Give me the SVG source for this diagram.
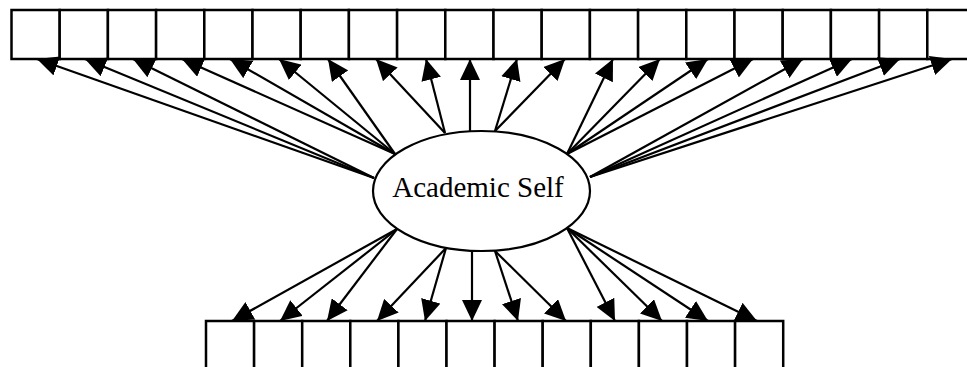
<svg xmlns="http://www.w3.org/2000/svg" width="967" height="367" viewBox="0 0 967 367">
<style>
.box{fill:#fff;stroke:#000;stroke-width:2.5}
.ell{fill:#fff;stroke:#000;stroke-width:2.2}
.c line{stroke:#000;stroke-width:2.2;marker-end:url(#ah)}
.lbl{font-family:"Liberation Serif","Times New Roman",serif;font-size:29px;fill:#000}
</style>
<defs>
<marker id="ah" markerUnits="userSpaceOnUse" markerWidth="21" markerHeight="20" refX="21" refY="10" orient="auto" viewBox="0 0 21 20">
<path d="M0,0 L21,10 L0,20 z" fill="#000"/>
</marker>
</defs>
<rect width="967" height="367" fill="#fff"/>
<g id="top-row">
<g id="t1"><rect class="box" x="11.5" y="10" width="48.2" height="49"/></g>
<g id="t2"><rect class="box" x="59.7" y="10" width="48.2" height="49"/></g>
<g id="t3"><rect class="box" x="107.9" y="10" width="48.2" height="49"/></g>
<g id="t4"><rect class="box" x="156.1" y="10" width="48.2" height="49"/></g>
<g id="t5"><rect class="box" x="204.3" y="10" width="48.2" height="49"/></g>
<g id="t6"><rect class="box" x="252.5" y="10" width="48.2" height="49"/></g>
<g id="t7"><rect class="box" x="300.7" y="10" width="48.2" height="49"/></g>
<g id="t8"><rect class="box" x="348.9" y="10" width="48.2" height="49"/></g>
<g id="t9"><rect class="box" x="397.1" y="10" width="48.2" height="49"/></g>
<g id="t10"><rect class="box" x="445.3" y="10" width="48.2" height="49"/></g>
<g id="t11"><rect class="box" x="493.5" y="10" width="48.2" height="49"/></g>
<g id="t12"><rect class="box" x="541.7" y="10" width="48.2" height="49"/></g>
<g id="t13"><rect class="box" x="589.9" y="10" width="48.2" height="49"/></g>
<g id="t14"><rect class="box" x="638.1" y="10" width="48.2" height="49"/></g>
<g id="t15"><rect class="box" x="686.3" y="10" width="48.2" height="49"/></g>
<g id="t16"><rect class="box" x="734.5" y="10" width="48.2" height="49"/></g>
<g id="t17"><rect class="box" x="782.7" y="10" width="48.2" height="49"/></g>
<g id="t18"><rect class="box" x="830.9" y="10" width="48.2" height="49"/></g>
<g id="t19"><rect class="box" x="879.1" y="10" width="48.2" height="49"/></g>
<g id="t20"><rect class="box" x="927.3" y="10" width="48.2" height="49"/></g>
</g>
<g id="bottom-row">
<g id="b1"><rect class="box" x="206" y="321" width="48.1" height="60"/></g>
<g id="b2"><rect class="box" x="254.1" y="321" width="48.1" height="60"/></g>
<g id="b3"><rect class="box" x="302.2" y="321" width="48.1" height="60"/></g>
<g id="b4"><rect class="box" x="350.3" y="321" width="48.1" height="60"/></g>
<g id="b5"><rect class="box" x="398.4" y="321" width="48.1" height="60"/></g>
<g id="b6"><rect class="box" x="446.5" y="321" width="48.1" height="60"/></g>
<g id="b7"><rect class="box" x="494.6" y="321" width="48.1" height="60"/></g>
<g id="b8"><rect class="box" x="542.7" y="321" width="48.1" height="60"/></g>
<g id="b9"><rect class="box" x="590.8" y="321" width="48.1" height="60"/></g>
<g id="b10"><rect class="box" x="638.9" y="321" width="48.1" height="60"/></g>
<g id="b11"><rect class="box" x="687" y="321" width="48.1" height="60"/></g>
<g id="b12"><rect class="box" x="735.1" y="321" width="48.1" height="60"/></g>
</g>
<g id="academic-self">
<ellipse class="ell" cx="481.5" cy="191" rx="108.5" ry="60"/>
<text class="lbl" x="478" y="197" text-anchor="middle">Academic Self</text>
</g>
<g id="connectors" class="c">
<line x1="374" y1="178" x2="37" y2="59"/>
<line x1="374" y1="178" x2="85" y2="59"/>
<line x1="374" y1="178" x2="133" y2="59"/>
<line x1="395" y1="154" x2="182" y2="59"/>
<line x1="395" y1="154" x2="230" y2="59"/>
<line x1="395" y1="154" x2="279" y2="59"/>
<line x1="395" y1="154" x2="328" y2="59"/>
<line x1="445" y1="133" x2="376" y2="59"/>
<line x1="445" y1="133" x2="426" y2="59"/>
<line x1="470" y1="131" x2="470" y2="59"/>
<line x1="495" y1="131" x2="517" y2="59"/>
<line x1="495" y1="131" x2="565" y2="59"/>
<line x1="567" y1="154" x2="613" y2="59"/>
<line x1="567" y1="154" x2="660" y2="59"/>
<line x1="567" y1="154" x2="708" y2="59"/>
<line x1="567" y1="154" x2="753" y2="59"/>
<line x1="590" y1="177" x2="803" y2="59"/>
<line x1="590" y1="177" x2="852" y2="59"/>
<line x1="590" y1="177" x2="900" y2="59"/>
<line x1="590" y1="177" x2="952" y2="59"/>
<line x1="397" y1="229" x2="232" y2="321"/>
<line x1="397" y1="229" x2="280" y2="321"/>
<line x1="397" y1="229" x2="327" y2="321"/>
<line x1="446" y1="248" x2="377" y2="321"/>
<line x1="446" y1="248" x2="425" y2="321"/>
<line x1="472" y1="251" x2="472" y2="321"/>
<line x1="495" y1="251" x2="518" y2="321"/>
<line x1="495" y1="251" x2="566" y2="321"/>
<line x1="567" y1="228" x2="615" y2="321"/>
<line x1="567" y1="228" x2="662" y2="321"/>
<line x1="567" y1="228" x2="708" y2="321"/>
<line x1="567" y1="228" x2="757" y2="321"/>
</g>
</svg>
